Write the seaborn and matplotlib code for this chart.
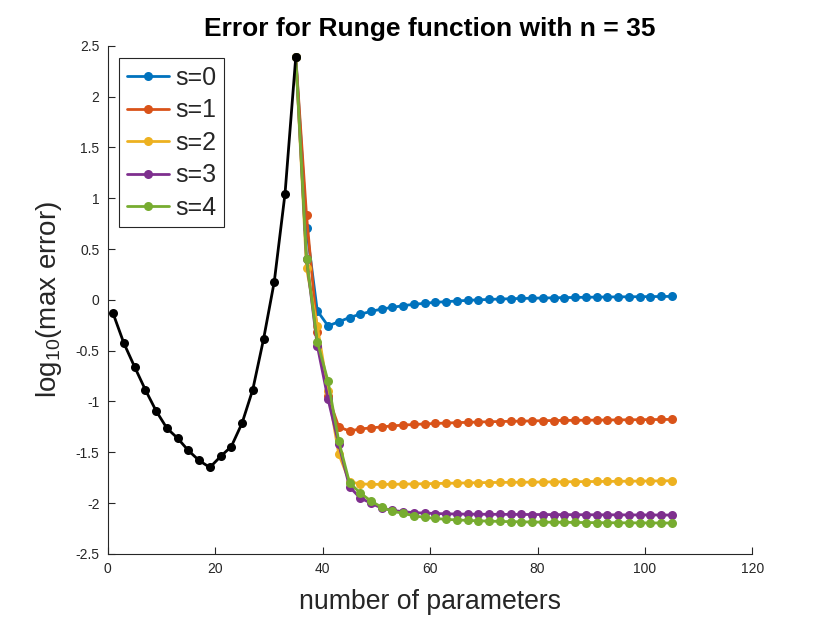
import matplotlib
matplotlib.use("Agg")
import matplotlib.pyplot as plt
import seaborn as sns
import numpy as np
import pandas as pd

# ---- data ----
x_left = list(range(1, 36, 2))
err_left = [-0.134, -0.426, -0.659, -0.885, -1.092, -1.262, -1.361, -1.482, -1.580,
            -1.649, -1.541, -1.443, -1.213, -0.882, -0.387, 0.180, 1.046, 2.390]

x_right = list(range(35, 106, 2))
s0 = [2.39, 0.71, -0.108, -0.256, -0.216, -0.174, -0.141, -0.114, -0.090, -0.074,
      -0.057, -0.044, -0.034, -0.024, -0.018, -0.011, -0.005, 0.000, 0.004, 0.008,
      0.011, 0.014, 0.016, 0.018, 0.020, 0.022, 0.024, 0.025, 0.027, 0.028,
      0.029, 0.030, 0.031, 0.032, 0.033, 0.034]
s1 = [2.39, 0.83, -0.32, -0.95, -1.25, -1.29, -1.27, -1.26, -1.25, -1.24, -1.232,
      -1.226, -1.221, -1.216, -1.212, -1.208, -1.205, -1.202, -1.199, -1.197, -1.195,
      -1.193, -1.191, -1.189, -1.187, -1.186, -1.185, -1.184, -1.183, -1.182, -1.181,
      -1.180, -1.179, -1.178, -1.177, -1.176]
s2 = [2.39, 0.31, -0.256, -0.895, -1.517, -1.79, -1.81, -1.815, -1.815, -1.815,
      -1.813, -1.811, -1.809, -1.807, -1.805, -1.803, -1.801, -1.799, -1.797, -1.796,
      -1.795, -1.794, -1.793, -1.792, -1.791, -1.790, -1.789, -1.788, -1.787, -1.786,
      -1.785, -1.784, -1.783, -1.782, -1.781, -1.780]
s3 = [2.39, 0.40, -0.45, -0.976, -1.42, -1.84, -1.95, -2.00, -2.05, -2.07, -2.085,
      -2.093, -2.098, -2.102, -2.105, -2.107, -2.108, -2.109, -2.110, -2.110, -2.111,
      -2.111, -2.112, -2.112, -2.113, -2.113, -2.114, -2.114, -2.115, -2.115, -2.115,
      -2.116, -2.116, -2.116, -2.117, -2.117]
s4 = [2.39, 0.40, -0.41, -0.80, -1.39, -1.80, -1.90, -1.98, -2.04, -2.08, -2.10,
      -2.125, -2.14, -2.15, -2.16, -2.165, -2.17, -2.174, -2.177, -2.180, -2.182,
      -2.184, -2.186, -2.187, -2.188, -2.189, -2.190, -2.191, -2.192, -2.193, -2.193,
      -2.194, -2.194, -2.195, -2.195, -2.196]

labels = ["s=0", "s=1", "s=2", "s=3", "s=4"]
series = [s0, s1, s2, s3, s4]
colors = ["#0072BD", "#D95319", "#EDB120", "#7E2F8E", "#77AC30"]

df = pd.concat([pd.DataFrame({"n": x_right, "err": v, "s": lab})
                for lab, v in zip(labels, series)], ignore_index=True)
df_left = pd.DataFrame({"n": x_left, "err": err_left})

# ---- style ----
sns.set_style("ticks")
plt.rcParams["font.family"] = ["Liberation Sans", "DejaVu Sans"]
plt.rcParams["mathtext.fontset"] = "custom"
plt.rcParams["mathtext.rm"] = "Liberation Sans"
plt.rcParams["mathtext.it"] = "Liberation Sans:italic"

fig = plt.figure(figsize=(8.3, 6.23), dpi=100)
ax = fig.add_axes([0.1298, 0.1108, 0.9066 - 0.1298, 0.9266 - 0.1108])

sns.lineplot(data=df, x="n", y="err", hue="s", palette=colors, marker="o",
             markersize=6.5, markeredgewidth=0, linewidth=2, ax=ax,
             estimator=None, sort=False)
sns.lineplot(data=df_left, x="n", y="err", color="black", marker="o",
             markersize=6.5, markeredgewidth=0, linewidth=2, ax=ax,
             estimator=None, sort=False, zorder=5)

ax.set_xlim(0, 120)
ax.set_ylim(-2.5, 2.5)
ax.set_xticks(np.arange(0, 121, 20))
ax.set_yticks(np.arange(-2.5, 2.51, 0.5))
ax.set_yticklabels([("%g" % t) for t in np.arange(-2.5, 2.51, 0.5)])

sp_col = "#262626"
for side in ["top", "right"]:
    ax.spines[side].set_visible(False)
for side in ["left", "bottom"]:
    ax.spines[side].set_color(sp_col)
    ax.spines[side].set_linewidth(0.8)
ax.tick_params(direction="in", length=5, width=0.8, colors=sp_col,
               labelsize=10, labelcolor=sp_col, pad=6)

ax.set_title("Error for Runge function with n = 35", fontsize=19,
             fontweight="bold", color="black", pad=7)
ax.set_xlabel("number of parameters", fontsize=19.2, color=sp_col, labelpad=9)
ax.set_ylabel(r"log$_{10}$(max error)", fontsize=20, color=sp_col, labelpad=8)

leg = ax.legend(loc="upper left", bbox_to_anchor=(0.018, 0.975), borderaxespad=0,
                fontsize=18, frameon=True, fancybox=False, framealpha=1,
                edgecolor="#262626", handlelength=1.7, handletextpad=0.25,
                labelspacing=0.34, borderpad=0.3, title=None)
leg.get_frame().set_linewidth(0.8)

fig.savefig("out.png", dpi=100)
